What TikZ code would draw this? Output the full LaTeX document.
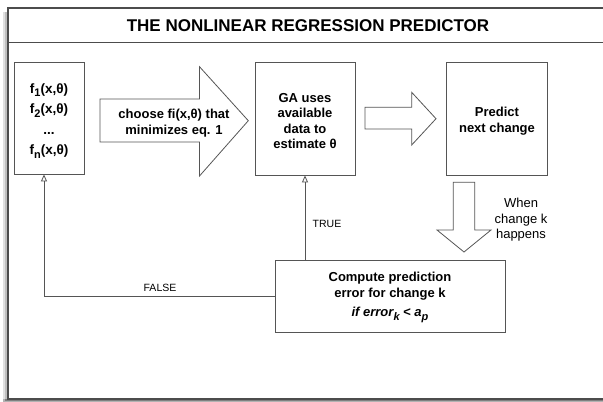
\documentclass[tikz,border=0pt]{standalone}
\usepackage{fontspec}
\setmainfont{Liberation Sans}
\usetikzlibrary{arrows.meta}
\newcommand{\lowsub}[1]{\raisebox{-3.5pt}{\fontsize{11}{11}\selectfont #1}}
\definecolor{edge}{HTML}{555555}
\begin{document}
\begin{tikzpicture}[x=1pt,y=-1pt,
  box/.style={draw=edge,line width=0.8pt,fill=white,inner sep=0pt,align=center},
  bigtext/.style={font=\fontsize{13}{15.5}\selectfont\bfseries,align=center,inner sep=0pt},
  plain/.style={font=\fontsize{13}{15.5}\selectfont,align=center,inner sep=0pt},
  tag/.style={font=\fontsize{10.5}{12}\selectfont,inner sep=0pt},
  hollow/.style={draw=edge,line width=0.8pt,fill=white,line join=miter},
  fb/.style={draw=edge,line width=0.8pt,-{Triangle[open,length=7pt,width=6pt]}}]
\useasboundingbox (0,0) rectangle (603,402);
% frame with soft shadow on the left and bottom
\fill[black!12] (3,12) rectangle (8,402);
\fill[black!25] (5,12) rectangle (8,401);
\fill[black!40] (6.5,12) rectangle (8,400.5);
\fill[black!30] (3,399) rectangle (603,402);
\fill[black!50] (5,399) rectangle (603,400.8);
\fill[white] (8,8) rectangle (610,399);
\draw[black!70,line width=1.2pt] (610,8) -- (8,8) -- (8,399) -- (610,399);
\draw[black!70,line width=1pt] (8,42) -- (610,42);
\node[font=\fontsize{17}{20}\selectfont\bfseries,inner sep=0pt] (title) at (308,25.5) {THE NONLINEAR REGRESSION PREDICTOR};

% boxes
\node[box,minimum width=70pt,minimum height=112pt] (flist) at (49,118) {};
\node[font=\fontsize{13.5}{20.5}\selectfont\bfseries,align=center,inner sep=0pt] (flisttext) at (49,121)
  {f\lowsub{1}(x,θ)\\ f\lowsub{2}(x,θ)\\ ...\\ f\lowsub{n}(x,θ)};
\node[box,minimum width=100pt,minimum height=113pt] (ga) at (305,118.5) {};
\node[bigtext] (gatext) at (305,121) {GA uses\\ available\\ data to\\ estimate θ};
\node[box,minimum width=101pt,minimum height=113pt] (pred) at (496.5,118.5) {};
\node[font=\fontsize{13}{16}\selectfont\bfseries,align=center,inner sep=0pt] (predtext) at (497,121.5)
  {Predict\\ next change};
\node[box,minimum width=230pt,minimum height=72pt] (comp) at (390,296) {};
\node[bigtext] (comptext) at (390,286) {Compute prediction\\ error for change k};
\node[font=\fontsize{13}{15.5}\selectfont\bfseries\itshape,inner sep=0pt] (cond) at (390,315)
  {if error\lowsub{k} < a\lowsub{p}};

% block arrows
\draw[hollow] (100,99) -- (199.5,99) -- (199.5,66.7) -- (248.3,120.7) -- (199.5,176) -- (199.5,142) -- (100,142) -- cycle;
\node[bigtext] (choose) at (174,123) {choose fi(x,θ) that\\ minimizes eq. 1};
\draw[hollow] (365,107.3) -- (411.7,107.3) -- (411.7,92.3) -- (436,118.7) -- (411.7,145) -- (411.7,129) -- (365,129) -- cycle;
\draw[hollow] (453.3,182.3) -- (474.7,182.3) -- (474.7,230) -- (491,230) -- (464,252) -- (437,230) -- (453.3,230) -- cycle;
\node[plain] (when) at (521,220) {When\\ change k\\ happens};

% feedback connectors
\draw[fb] (ga.south |- comp.north) -- (ga.south);
\node[tag] (true) at (327,224) {TRUE};
\coordinate (fin) at ([xshift=-5pt]flist.south);
\draw[fb] (comp.west) -| (fin);
\node[tag] (false) at (160,288) {FALSE};
\end{tikzpicture}
\end{document}
